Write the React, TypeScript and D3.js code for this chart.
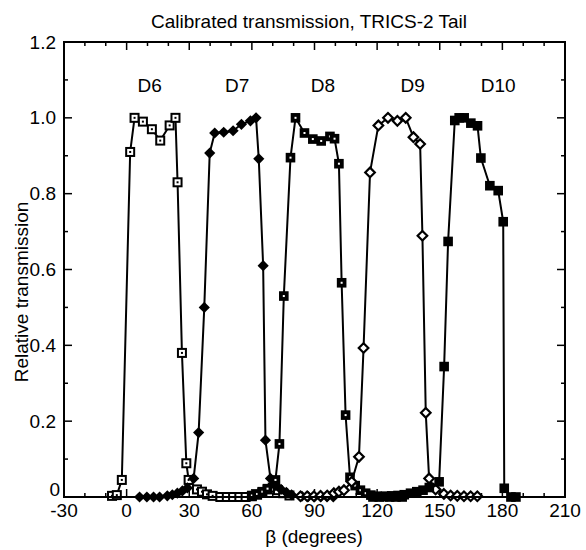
import React from 'react';
import * as d3 from 'd3';

const W = 586;
const H = 550;

const titleText = 'Calibrated transmission, TRICS-2 Tail';
const xLabel = 'β (degrees)';
const yLabel = 'Relative transmission';

const xTicks = [-30, 0, 30, 60, 90, 120, 150, 180, 210];
const yTicks = [0, 0.2, 0.4, 0.6, 0.8, 1.0, 1.2];
const yTickLabels = ['0', '0.2', '0.4', '0.6', '0.8', '1.0', '1.2'];

const seriesNames = ['D6', 'D7', 'D8', 'D9', 'D10'];
const labelX = [11, 53, 94, 137, 178];
const labelY = [1.085, 1.085, 1.085, 1.085, 1.085];

const d6X = [-7, -4.7, -2.3, 1.7, 3.8, 7.8, 12.1, 16.1, 20.6, 23.4, 24.4, 26.5, 28.6, 29.7, 33.7, 36.1, 38.5, 41.2, 44.9, 48, 51, 54, 57, 60, 62.5, 65, 67.5, 70, 72.5, 75, 78];
const d6Y = [0.003, 0.005, 0.045, 0.91, 1.0, 0.99, 0.97, 0.94, 0.98, 1.0, 0.83, 0.38, 0.089, 0.045, 0.02, 0.014, 0.007, 0.003, 0.0, 0.0, 0.0, 0.0, 0.0, 0.002, 0.006, 0.012, 0.02, 0.025, 0.018, 0.01, 0.004];

const d7X = [6.2, 9.7, 12.9, 15.8, 19.5, 21.9, 24.3, 26.7, 29.1, 32.1, 34.5, 37.2, 39.8, 42.2, 46.5, 51, 55, 59.3, 62, 63.3, 65.4, 66.5, 68.9, 71.5, 74, 76.5, 79, 84, 87, 90, 93, 96, 99];
const d7Y = [0, 0, 0, 0, 0.003, 0.006, 0.01, 0.016, 0.024, 0.049, 0.17, 0.5, 0.907, 0.96, 0.962, 0.966, 0.983, 0.992, 1.0, 0.892, 0.61, 0.15, 0.049, 0.03, 0.02, 0.012, 0.006, 0.002, 0.001, 0, 0, 0, 0];

const d8X = [60, 62.5, 65, 67.5, 71.3, 73.2, 75.3, 78.5, 80.9, 85.2, 89.2, 93.2, 97.4, 99.6, 101.7, 103, 104.9, 107, 109.5, 112, 114.5, 117, 120, 123, 126, 129, 132];
const d8Y = [0.004, 0.008, 0.014, 0.022, 0.045, 0.14, 0.53, 0.895, 1.0, 0.96, 0.944, 0.939, 0.951, 0.945, 0.879, 0.565, 0.216, 0.052, 0.03, 0.018, 0.01, 0.005, 0.002, 0.001, 0, 0, 0];

const d9X = [83.3, 86.5, 89.7, 92.9, 96.1, 99.3, 101.7, 104.1, 107.8, 111.3, 113.5, 116.6, 120.6, 125.2, 129.7, 133.7, 137.4, 140.6, 141.7, 143.3, 144.9, 148, 152, 155.2, 158.4, 161.6, 164.8, 168];
const d9Y = [0.002, 0.002, 0.002, 0.003, 0.004, 0.01, 0.014, 0.018, 0.04, 0.106, 0.393, 0.856, 0.98, 1.0, 0.992, 1.0, 0.949, 0.931, 0.689, 0.222, 0.049, 0.02, 0.008, 0.004, 0.003, 0.002, 0.002, 0.002];

const d10X = [118, 121, 124, 127, 130, 133, 136, 139, 142, 145, 149.7, 152.1, 154, 157.2, 159.3, 161.7, 164.9, 168.1, 169.7, 174, 178, 180.4, 180.9, 184.1, 186.5];
const d10Y = [0, 0, 0.002, 0.003, 0.004, 0.006, 0.01, 0.014, 0.018, 0.025, 0.04, 0.344, 0.674, 0.993, 1.0, 1.0, 0.986, 0.979, 0.894, 0.821, 0.808, 0.726, 0.023, 0, 0];

const seriesX = [d6X, d7X, d8X, d9X, d10X];
const seriesY = [d6Y, d7Y, d8Y, d9Y, d10Y];
const markerKinds = ['openSquareDot', 'filledDiamond', 'filledSquareDot', 'openDiamond', 'filledSquare'];

const FONT = '"Liberation Sans", Arial, Helvetica, sans-serif';

const left = 64;
const right = 565;
const top = 42;
const bottom = 497;

function Marker({ kind, cx, cy }: { kind: string; cx: number; cy: number }) {
  switch (kind) {
    case 'openSquareDot':
      return (
        <g>
          <rect x={cx - 4} y={cy - 4} width={8} height={8} fill="#fff" stroke="#000" strokeWidth={2} />
          <rect x={cx - 1} y={cy - 1} width={2} height={2} fill="#000" />
        </g>
      );
    case 'filledDiamond':
      return <path d={`M${cx},${cy - 5.6}L${cx + 5.6},${cy}L${cx},${cy + 5.6}L${cx - 5.6},${cy}Z`} fill="#000" />;
    case 'filledSquareDot':
      return (
        <g>
          <rect x={cx - 4.8} y={cy - 4.8} width={9.6} height={9.6} fill="#000" />
          <rect x={cx - 1} y={cy - 1} width={2} height={2} fill="#fff" />
        </g>
      );
    case 'openDiamond':
      return <path d={`M${cx},${cy - 4.8}L${cx + 4.8},${cy}L${cx},${cy + 4.8}L${cx - 4.8},${cy}Z`} fill="#fff" stroke="#000" strokeWidth={2.2} />;
    default:
      return <rect x={cx - 4.8} y={cy - 4.8} width={9.6} height={9.6} fill="#000" />;
  }
}

export default function App() {
  const x = d3.scaleLinear().domain([-30, 210]).range([left, right]);
  const y = d3.scaleLinear().domain([0, 1.2]).range([bottom, top]);

  const xMinor = d3.range(-30, 211, 10);
  const yMinor = d3.range(0, 13).map((i) => i / 10);

  const line = d3
    .line<[number, number]>()
    .x((d) => x(d[0]))
    .y((d) => y(d[1]));

  return (
    <svg width={W} height={H} style={{ position: 'absolute', left: 0, top: 0, background: '#fff' }} fontFamily={FONT}>
      <rect x={0} y={0} width={W} height={H} fill="#fff" />
      <text x={309} y={28} textAnchor="middle" fontSize={19}>
        {titleText}
      </text>

      {/* ticks */}
      <g stroke="#000" strokeWidth={1.5}>
        {xMinor.map((v) => {
          const major = v % 30 === 0;
          const len = major ? 8 : 4;
          return (
            <g key={'xt' + v}>
              <line x1={x(v)} x2={x(v)} y1={bottom} y2={bottom - len} />
              <line x1={x(v)} x2={x(v)} y1={top} y2={top + len} />
            </g>
          );
        })}
        {yMinor.map((v, i) => {
          const major = i % 2 === 0;
          const len = major ? 8 : 4;
          return (
            <g key={'yt' + i}>
              <line x1={left} x2={left + len} y1={y(v)} y2={y(v)} />
              <line x1={right} x2={right - len} y1={y(v)} y2={y(v)} />
            </g>
          );
        })}
      </g>

      {/* series lines */}
      {seriesX.map((xs, si) => (
        <path
          key={'l' + si}
          d={line(xs.map((v, i) => [v, seriesY[si][i]] as [number, number])) || ''}
          fill="none"
          stroke="#000"
          strokeWidth={2}
          strokeLinejoin="round"
        />
      ))}

      {/* markers */}
      {seriesX.map((xs, si) => (
        <g key={'m' + si}>
          {xs.map((v, i) => (
            <Marker key={i} kind={markerKinds[si]} cx={x(v)} cy={y(seriesY[si][i])} />
          ))}
        </g>
      ))}

      {/* frame */}
      <rect x={left} y={top} width={right - left} height={bottom - top} fill="none" stroke="#000" strokeWidth={2} />

      {/* series labels */}
      {seriesNames.map((n, i) => (
        <text key={n} x={x(labelX[i])} y={y(labelY[i])} textAnchor="middle" dy="0.35em" fontSize={19}>
          {n}
        </text>
      ))}

      {/* x tick labels */}
      {xTicks.map((v) => (
        <text key={'xl' + v} x={x(v)} y={517} textAnchor="middle" fontSize={19}>
          {v}
        </text>
      ))}

      {/* y tick labels */}
      {yTicks.map((v, i) => (
        <text
          key={'yl' + i}
          x={i === 0 ? 60 : 56}
          y={i === 0 ? y(v) - 8 : y(v)}
          dy="0.35em"
          textAnchor="end"
          fontSize={19}
        >
          {yTickLabels[i]}
        </text>
      ))}

      <text x={314} y={543} textAnchor="middle" fontSize={19}>
        {xLabel}
      </text>
      <text transform={`translate(28, 292) rotate(-90)`} textAnchor="middle" fontSize={19}>
        {yLabel}
      </text>
    </svg>
  );
}
